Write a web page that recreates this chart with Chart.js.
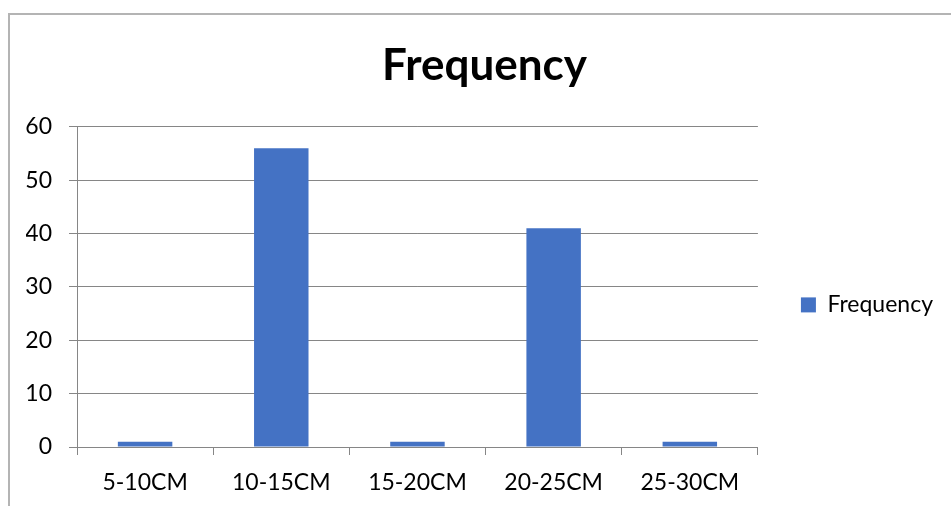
<!DOCTYPE html>
<html>
<head>
<meta charset="utf-8">
<script src="https://cdn.jsdelivr.net/npm/chart.js@4"></script>
<style>
  body { margin: 0; background: #fff; }
  #wrap { position: relative; width: 951px; height: 506px; overflow: hidden; }
  #frame { position: absolute; left: 8px; top: 13px; width: 960px; height: 510px;
           border-left: 2px solid #b4b4b4; border-top: 2px solid #b4b4b4; }
  #chart { position: absolute; left: 0; top: 0; }
</style>
</head>
<body>
<div id="wrap">
  <div id="frame"></div>
  <canvas id="chart" width="951" height="506"></canvas>
</div>
<script>
let sizes = ['5-10CM', '10-15CM', '15-20CM', '20-25CM', '25-30CM'];//categories on the x axis
let frequency = [1, 56, 1, 41, 1];//bar heights
let yTicks = [0, 10, 20, 30, 40, 50, 60];

const gridGray = '#868686';
const font = 'Lato';

const ctx = document.getElementById('chart').getContext('2d');

const chart = new Chart(ctx, {
    type: 'bar',
    data: {
        labels: sizes,
        datasets: [{
            label: 'Frequency',
            data: frequency,
            backgroundColor: '#4472C4',
            barPercentage: 0.4,
            categoryPercentage: 1.0
        }]
    },
    options: {
        responsive: false,
        animation: false,
        layout: {
            padding: { left: 26, right: 8, top: 0, bottom: 0 }
        },
        plugins: {
            title: {
                display: true,
                text: 'Frequency',
                color: '#000',
                font: { family: font, size: 44, weight: 'bold' },
                padding: { top: 39, bottom: 35 }
            },
            legend: {
                position: 'right',
                align: 'start',
                title: {
                    display: true,
                    text: ' ',
                    font: { size: 12 },
                    padding: { top: 236, bottom: 0 } // legend box spans full height, so push the item down to the middle
                },
                labels: {
                    boxWidth: 15,
                    boxHeight: 15,
                    padding: 43,
                    color: '#000',
                    font: { family: font, size: 23 }
                }
            },
            tooltip: { enabled: false }
        },
        scales: {
            x: {
                afterFit: (scale) => { scale.height = 59; },
                grid: {
                    display: true,
                    drawOnChartArea: false,
                    drawTicks: true,
                    tickLength: 8,
                    color: gridGray
                },
                border: { display: true, color: gridGray },
                ticks: {
                    color: '#000',
                    padding: 14,
                    maxRotation: 0,
                    font: { family: font, size: 23 }
                }
            },
            y: {
                min: yTicks[0],
                max: yTicks[yTicks.length - 1],
                afterFit: (scale) => { scale.width = 51; },
                afterBuildTicks: (scale) => { scale.ticks = yTicks.map(v => ({ value: v })); },
                grid: {
                    color: gridGray,
                    tickLength: 8
                },
                border: { display: true, color: gridGray },
                ticks: {
                    color: '#000',
                    padding: 17,
                    font: { family: font, size: 23 }
                }
            }
        }
    }
});
</script>
</body>
</html>
